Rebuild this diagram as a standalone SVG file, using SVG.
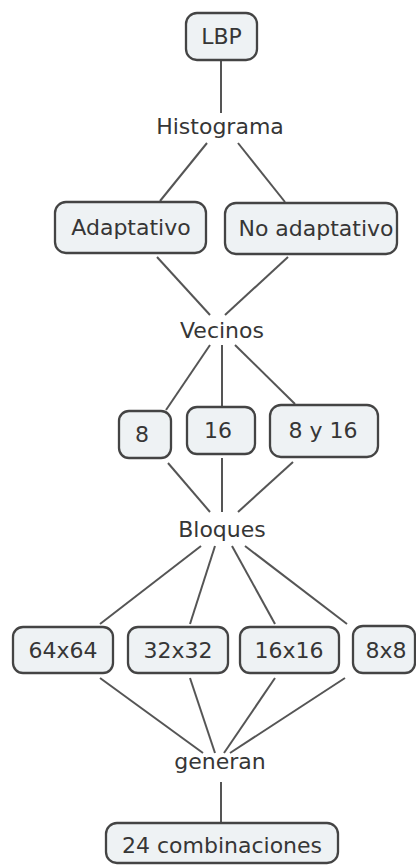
<svg xmlns="http://www.w3.org/2000/svg" width="416" height="867" viewBox="0 0 416 867">
<style>
.box{fill:#eef2f4;stroke:#444444;stroke-width:2.3}
.t{font-family:"DejaVu Sans",Verdana,sans-serif;font-size:22px;fill:#363636;text-anchor:middle}
.c line{stroke:#555555;stroke-width:2}
</style>
<rect width="416" height="867" fill="#ffffff"/>
<g class="c" id="connectors">
<line x1="221" y1="60" x2="221" y2="113"/>
<line x1="207" y1="143" x2="160" y2="201"/>
<line x1="238" y1="143" x2="285" y2="202"/>
<line x1="157" y1="257" x2="210" y2="315"/>
<line x1="288" y1="257" x2="225" y2="315"/>
<line x1="210" y1="345" x2="166" y2="410"/>
<line x1="222" y1="345" x2="222" y2="406"/>
<line x1="235" y1="345" x2="295" y2="404"/>
<line x1="168" y1="463" x2="210" y2="512"/>
<line x1="222" y1="458" x2="222" y2="512"/>
<line x1="293" y1="462" x2="238" y2="512"/>
<line x1="201" y1="546" x2="100" y2="624"/>
<line x1="215" y1="546" x2="190" y2="624"/>
<line x1="232" y1="546" x2="275" y2="624"/>
<line x1="245" y1="546" x2="347" y2="624"/>
<line x1="100" y1="678" x2="203" y2="753"/>
<line x1="190" y1="678" x2="215" y2="753"/>
<line x1="275" y1="678" x2="224" y2="753"/>
<line x1="345" y1="678" x2="230" y2="753"/>
<line x1="221" y1="782" x2="221" y2="822"/>
</g>
<g id="n-lbp"><rect class="box" x="186" y="13" width="71" height="47" rx="11"/><text class="t" x="221.5" y="44">LBP</text></g>
<g id="n-histograma"><text class="t" x="220" y="134">Histograma</text></g>
<g id="n-adaptativo"><rect class="box" x="55" y="202" width="151" height="51" rx="11"/><text class="t" x="131" y="235">Adaptativo</text></g>
<g id="n-noadaptativo"><rect class="box" x="225" y="203" width="172" height="51" rx="11"/><text class="t" x="316" y="236">No adaptativo</text></g>
<g id="n-vecinos"><text class="t" x="222" y="338">Vecinos</text></g>
<g id="n-8"><rect class="box" x="119" y="411" width="52" height="47" rx="10"/><text class="t" x="142" y="442">8</text></g>
<g id="n-16"><rect class="box" x="187" y="407" width="68" height="47" rx="10"/><text class="t" x="218" y="438">16</text></g>
<g id="n-8y16"><rect class="box" x="270" y="405" width="108" height="52" rx="11"/><text class="t" x="323" y="438">8 y 16</text></g>
<g id="n-bloques"><text class="t" x="222" y="537">Bloques</text></g>
<g id="n-64"><rect class="box" x="13" y="627" width="100" height="46" rx="10"/><text class="t" x="63" y="658">64x64</text></g>
<g id="n-32"><rect class="box" x="128" y="627" width="100" height="46" rx="10"/><text class="t" x="178" y="658">32x32</text></g>
<g id="n-16x16"><rect class="box" x="240" y="627" width="99" height="46" rx="10"/><text class="t" x="289" y="658">16x16</text></g>
<g id="n-8x8"><rect class="box" x="353" y="626" width="62" height="47" rx="10"/><text class="t" x="386" y="658">8x8</text></g>
<g id="n-generan"><text class="t" x="220" y="769">generan</text></g>
<g id="n-24"><rect class="box" x="106" y="823" width="232" height="40" rx="11"/><text class="t" x="222" y="853">24 combinaciones</text></g>
</svg>
